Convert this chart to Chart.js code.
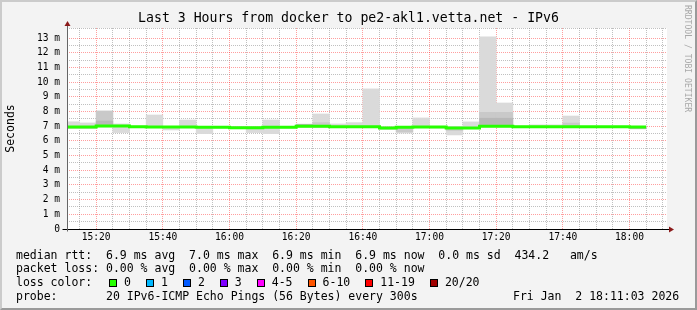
<!DOCTYPE html>
<html lang="en">

<head>
    <meta charset="UTF-8">
    <title>Smokeping | docker to pe2-akl1.vetta.net - IPv6</title>
    <script src="https://cdn.jsdelivr.net/npm/chart.js@4.4.1/dist/chart.umd.min.js"></script>
    <style>
        html,
        body {
            margin: 0;
            padding: 0;
            background: #fff;
        }

        .janela {
            position: relative;
            width: 697px;
            height: 310px;
            background: #f3f3f3;
            font-family: 'DejaVu Sans Mono', monospace;
            color: #000;
            overflow: hidden;
        }

        #canvas_grafico {
            position: absolute;
            left: 0;
            top: 0;
        }

        .moldura {
            position: absolute;
            left: 0;
            top: 0;
            right: 0;
            bottom: 0;
            border: 2px solid;
            border-color: #cbcbcb #9a9a9a #9a9a9a #cbcbcb;
            pointer-events: none;
        }

        .titulo {
            position: absolute;
            top: 10px;
            left: 0;
            width: 697px;
            text-align: center;
            font-size: 13.2px;
            line-height: 16px;
            white-space: pre;
        }

        .linha {
            position: absolute;
            left: 16px;
            font-size: 11.5px;
            line-height: 14px;
            white-space: pre;
        }

        .item {
            margin-right: 12px;
        }

        .item i {
            display: inline-block;
            vertical-align: top;
            width: 6px;
            height: 6px;
            margin: 4px 7px 0 3px;
            border: 1px solid #000;
        }

        .marca {
            position: absolute;
            left: 683px;
            top: 5px;
            writing-mode: vertical-rl;
            font-size: 8.1px;
            line-height: 9px;
            color: #a8a8a8;
            white-space: pre;
        }
    </style>
</head>

<body>
    <div class="janela">
        <canvas id="canvas_grafico" width="697" height="310"></canvas>
        <div class="titulo">Last 3 Hours from docker to pe2-akl1.vetta.net - IPv6</div>
        <div class="marca">RRDTOOL / TOBI OETIKER</div>
        <div class="linha" style="top:247.5px">median rtt:  6.9 ms avg  7.0 ms max  6.9 ms min  6.9 ms now  0.0 ms sd  434.2   am/s</div>
        <div class="linha" style="top:261px">packet loss: 0.00 % avg  0.00 % max  0.00 % min  0.00 % now</div>
        <div class="linha" id="loss_color" style="top:275px">loss color:  </div>
        <div class="linha" style="top:288.5px">probe:       20 IPv6-ICMP Echo Pings (56 Bytes) every 300s</div>
        <div class="linha" style="top:288.5px; left:513px">Fri Jan  2 18:11:03 2026</div>
        <div class="moldura"></div>
    </div>

    <script>
        // 5 minute steps (start of each step)
        const slots = ['15:10', '15:15', '15:20', '15:25', '15:30', '15:35', '15:40', '15:45', '15:50', '15:55',
            '16:00', '16:05', '16:10', '16:15', '16:20', '16:25', '16:30', '16:35', '16:40', '16:45',
            '16:50', '16:55', '17:00', '17:05', '17:10', '17:15', '17:20', '17:25', '17:30', '17:35',
            '17:40', '17:45', '17:50', '17:55', '18:00'];

        // smoke: range of the 20 pings (ms)
        const smokeMin = [6.85, 6.85, 6.95, 6.57, 6.90, 6.90, 6.75, 6.90, 6.50, 6.88,
            6.85, 6.57, 6.50, 6.88, 6.92, 6.90, 6.90, 6.90, 6.90, 6.78,
            6.54, 6.90, 6.88, 6.41, 6.85, 6.95, 6.95, 6.90, 6.90, 6.90,
            6.90, 6.90, 6.90, 6.90, 6.82];
        const smokeMax = [7.31, 7.23, 8.04, 7.16, 7.02, 7.77, 7.00, 7.43, 7.00, 7.00,
            6.98, 6.98, 7.43, 7.00, 7.14, 7.84, 7.16, 7.25, 9.55, 6.98,
            7.00, 7.57, 7.00, 7.00, 7.30, 13.10, 8.59, 7.02, 7.10, 7.10,
            7.70, 7.00, 7.00, 7.00, 6.98];

        // denser part of the smoke
        const midMin = [6.88, 6.88, 7.05, null, null, null, null, null, null, null,
            null, null, null, null, null, 7.02, null, null, null, null,
            6.62, null, null, 6.72, null, 7.02, 7.02, null, null, null,
            7.00, null, null, null, null];
        const midMax = [6.98, 6.98, 8.04, null, null, null, null, null, null, null,
            null, null, null, null, null, 7.25, null, null, null, null,
            6.92, null, null, 6.90, null, 7.95, 7.95, null, null, null,
            7.22, null, null, null, null];
        const coreMin = [null, null, 7.05, null, null, null, null, null, null, null,
            null, null, null, null, 7.08, null, null, null, null, null,
            null, null, null, null, null, 7.02, 7.02, null, null, null,
            null, null, null, null, 6.84];
        const coreMax = [null, null, 7.36, null, null, null, null, null, null, null,
            null, null, null, null, 7.14, null, null, null, null, null,
            null, null, null, null, null, 7.55, 7.55, null, null, null,
            null, null, null, null, 6.92];

        // median rtt (ms), all steps 0 packet loss
        const medianRtt = [6.95, 6.95, 7.02, 7.02, 6.97, 6.95, 6.95, 6.95, 6.93, 6.93,
            6.90, 6.90, 6.93, 6.93, 7.00, 7.00, 6.97, 6.97, 6.97, 6.88,
            6.93, 6.95, 6.95, 6.88, 6.88, 7.00, 7.00, 6.97, 6.97, 6.97,
            6.97, 6.97, 6.97, 6.97, 6.95];

        const xTickLabels = ['15:20', '15:40', '16:00', '16:20', '16:40', '17:00', '17:20', '17:40', '18:00'];
        const yMax = 13.7;

        const lossLabels = ['0', '1', '2', '3', '4-5', '6-10', '11-19', '20/20'];
        const lossColors = ['#26ff00', '#00b8ff', '#0059ff', '#7e00ff', '#ff00ff', '#ff5500', '#ff0000', '#a10000'];

        const fonte = "'DejaVu Sans Mono', monospace";
        const gradeMaior = 'rgba(255, 0, 0, 0.38)';
        const gradeMenor = 'rgba(130, 130, 130, 0.5)';

        // minutes since 15:00
        function paraMin(hhmm) {
            const p = hhmm.split(':');
            return (Number(p[0]) - 15) * 60 + Number(p[1]);
        }

        function paraHora(min) {
            const h = 15 + Math.floor(min / 60);
            const m = min % 60;
            return h + ':' + String(m).padStart(2, '0');
        }

        // legenda das cores de perda
        const lossBox = document.getElementById('loss_color');
        for (let i = 0; i < lossLabels.length; i++) {
            const s = document.createElement('span');
            s.className = 'item';
            s.innerHTML = '<i style="background:' + lossColors[i] + '"></i>' + lossLabels[i];
            lossBox.appendChild(s);
        }

        function barras(lo, hi, cor) {
            const dados = [];
            for (let i = 0; i < slots.length; i++) {
                if (lo[i] == null) continue;
                dados.push({ x: paraMin(slots[i]) + 2.5, y: [lo[i], hi[i]] });
            }
            return {
                type: 'bar',
                data: dados,
                backgroundColor: cor,
                borderWidth: 0,
                grouped: false,
                barPercentage: 1,
                categoryPercentage: 1
            };
        }

        const linhaMediana = [];
        for (let i = 0; i < slots.length; i++) {
            linhaMediana.push({ x: paraMin(slots[i]), y: medianRtt[i] });
        }
        linhaMediana.push({ x: paraMin(slots[slots.length - 1]) + 5, y: medianRtt[medianRtt.length - 1] });

        const fundoPlot = {
            id: 'fundoPlot',
            beforeDraw(chart) {
                const { ctx, chartArea: a } = chart;
                ctx.save();
                ctx.fillStyle = '#fff';
                ctx.fillRect(a.left, a.top, a.right - a.left, a.bottom - a.top);
                ctx.restore();
            },
            afterDraw(chart) {
                const { ctx, chartArea: a } = chart;
                const x0 = Math.round(a.left) + 0.5;
                const y0 = Math.round(a.bottom) + 0.5;
                ctx.save();
                ctx.lineWidth = 1;
                ctx.strokeStyle = '#000';
                ctx.beginPath();
                ctx.moveTo(x0 - 5, y0);
                ctx.lineTo(a.right + 3, y0);
                ctx.stroke();
                ctx.strokeStyle = '#666';
                ctx.beginPath();
                ctx.moveTo(x0, y0 + 2);
                ctx.lineTo(x0, a.top - 3);
                ctx.stroke();
                // setas dos eixos
                ctx.fillStyle = '#8b1a1a';
                ctx.beginPath();
                ctx.moveTo(x0, a.top - 7);
                ctx.lineTo(x0 - 3, a.top - 2);
                ctx.lineTo(x0 + 3, a.top - 2);
                ctx.fill();
                ctx.beginPath();
                ctx.moveTo(a.right + 7, y0);
                ctx.lineTo(a.right + 2, y0 - 3);
                ctx.lineTo(a.right + 2, y0 + 3);
                ctx.fill();
                ctx.restore();
            }
        };

        const config = {
            data: {
                datasets: [
                    {
                        type: 'line',
                        data: linhaMediana,
                        borderColor: '#26ff00',
                        borderWidth: 3,
                        pointRadius: 0,
                        stepped: true,
                        fill: false
                    },
                    barras(coreMin, coreMax, '#b8b8b8'),
                    barras(midMin, midMax, '#c9c9c9'),
                    barras(smokeMin, smokeMax, '#dadada')
                ]
            },
            options: {
                responsive: false,
                devicePixelRatio: 1,
                animation: false,
                layout: { padding: { left: 0, top: 28, right: 30, bottom: 61 } },
                plugins: {
                    legend: { display: false },
                    title: { display: false },
                    tooltip: { enabled: false }
                },
                scales: {
                    x: {
                        type: 'linear',
                        offset: false,
                        z: 1,
                        min: 11.25,
                        max: 191.25,
                        afterFit: function (s) { s.height = 20; },
                        afterBuildTicks: function (axis) {
                            const t = [];
                            for (let m = 15; m <= 190; m += 5) t.push({ value: m });
                            axis.ticks = t;
                        },
                        ticks: {
                            autoSkip: false,
                            maxRotation: 0,
                            padding: 3,
                            color: '#000',
                            font: { family: fonte, size: 9.6 },
                            callback: function (v) {
                                const h = paraHora(v);
                                return xTickLabels.includes(h) ? h : '';
                            }
                        },
                        grid: {
                            offset: false,
                            drawTicks: false,
                            lineWidth: 1,
                            color: function (c) {
                                return c.tick && c.tick.value % 20 === 0 ? gradeMaior : gradeMenor;
                            }
                        },
                        border: { display: false, dash: [1, 1] }
                    },
                    y: {
                        min: 0,
                        max: yMax,
                        z: 1,
                        afterFit: function (s) { s.width = 67; },
                        ticks: {
                            stepSize: 0.5,
                            autoSkip: false,
                            padding: 7,
                            color: '#000',
                            font: { family: fonte, size: 9.6 },
                            callback: function (v) {
                                if (v === 0) return '0';
                                return Number.isInteger(v) ? v + ' m' : '';
                            }
                        },
                        grid: {
                            drawTicks: false,
                            lineWidth: 1,
                            color: function (c) {
                                if (!c.tick) return gradeMenor;
                                return Number.isInteger(c.tick.value) ? gradeMaior : gradeMenor;
                            }
                        },
                        border: { display: false, dash: [1, 1] },
                        title: {
                            display: true,
                            text: 'Seconds',
                            color: '#000',
                            font: { family: fonte, size: 11.5 },
                            padding: { top: 4, bottom: 0 }
                        }
                    }
                }
            },
            plugins: [fundoPlot]
        };

        new Chart(document.getElementById('canvas_grafico'), config);
    </script>
</body>

</html>
